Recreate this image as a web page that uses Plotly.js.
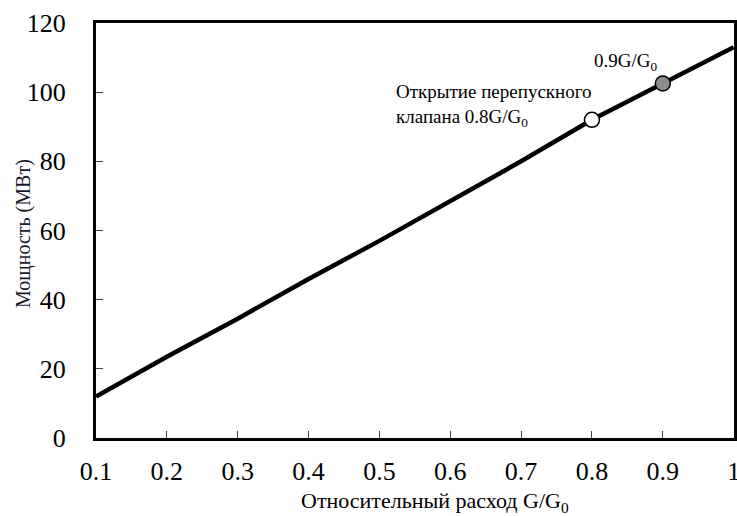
<!DOCTYPE html>
<html>
<head>
<meta charset="utf-8">
<script src="https://cdn.plot.ly/plotly-3.0.1.min.js"></script>
<style>html,body{margin:0;padding:0;background:#fff;overflow:hidden}</style>
</head>
<body>
<div id="chart" style="width:745px;height:516px"></div>
<script>
// Data
const flowRatio = [0.1, 0.2, 0.3, 0.4, 0.5, 0.6, 0.7, 0.8, 0.9, 1.0];
const powerMW   = [12, 23.5, 34.5, 46, 57, 68.5, 80, 92, 102.5, 113];
const bypassX = [0.8];
const bypassY = [92];
const pointX = [0.9];
const pointY = [102.5];
const xTicks = [0.1, 0.2, 0.3, 0.4, 0.5, 0.6, 0.7, 0.8, 0.9, 1.0];
const xTickText = ['0.1','0.2','0.3','0.4','0.5','0.6','0.7','0.8','0.9','1'];
const yTicks = [0, 20, 40, 60, 80, 100, 120];
const labelBypass = 'Открытие перепускного<br>клапана 0.8G/G<sub>0</sub>';
const labelPoint = '0.9G/G<sub>0</sub>';
const xTitle = 'Относительный расход G/G<sub>0</sub>';
const yTitle = 'Мощность (МВт)';

const serif = 'Liberation Serif, Times New Roman, serif';

const W = 745, H = 516;
const M = {l: 96, r: 11, t: 23, b: 78};
const plotW = W - M.l - M.r, plotH = H - M.t - M.b;

const traces = [
  {x: flowRatio, y: powerMW, mode: 'lines', type: 'scatter',
   line: {color: '#000', width: 4.5}, hoverinfo: 'skip'},
  {x: bypassX, y: bypassY, mode: 'markers', type: 'scatter',
   marker: {size: 15, color: '#fff', line: {color: '#000', width: 1.5}}},
  {x: pointX, y: pointY, mode: 'markers', type: 'scatter',
   marker: {size: 15, color: '#8c8c8c', line: {color: '#000', width: 1.5}}}
];

const layout = {
  width: W, height: H,
  margin: M,
  showlegend: false,
  paper_bgcolor: '#fff', plot_bgcolor: '#fff',
  font: {family: serif, color: '#000'},
  xaxis: {
    range: [0.1, 1.0005], tickvals: xTicks, ticktext: xTickText,
    ticks: 'inside', ticklen: 7, tickwidth: 1, tickcolor: '#444',
    showgrid: false, zeroline: false,
    showline: true, linecolor: '#000', linewidth: 3, mirror: true,
    tickfont: {family: serif, size: 26, color: '#000'},
    ticklabelstandoff: 8, ticklabeloverflow: 'allow'
  },
  yaxis: {
    range: [0, 120], tickvals: yTicks,
    ticks: 'inside', ticklen: 7, tickwidth: 1, tickcolor: '#444',
    showgrid: false, zeroline: false,
    showline: true, linecolor: '#000', linewidth: 3, mirror: true,
    tickfont: {family: serif, size: 26, color: '#000'},
    ticklabelstandoff: 22
  },
  annotations: [
    {x: (435 - M.l) / plotW, y: (H - M.b - 502) / plotH, xref: 'paper', yref: 'paper',
     text: xTitle, showarrow: false, xanchor: 'center', yanchor: 'middle',
     font: {family: serif, size: 22, color: '#000'}},
    {x: (24 - M.l) / plotW, y: (H - M.b - 234) / plotH, xref: 'paper', yref: 'paper',
     text: yTitle, textangle: -90, showarrow: false, xanchor: 'center', yanchor: 'middle',
     font: {family: serif, size: 20, color: '#1a1a2e'}},
    {x: 0.8, y: 92, xref: 'x', yref: 'y', text: labelBypass, showarrow: false,
     xanchor: 'right', yanchor: 'bottom', align: 'left', xshift: 2, yshift: -12,
     font: {family: serif, size: 19, color: '#000'}},
    {x: 0.9, y: 102.5, xref: 'x', yref: 'y', text: labelPoint, showarrow: false,
     xanchor: 'right', yanchor: 'bottom', xshift: -4, yshift: 8,
     font: {family: serif, size: 19, color: '#000'}}
  ]
};

Plotly.newPlot('chart', traces, layout, {displayModeBar: false, staticPlot: true});
</script>
</body>
</html>
